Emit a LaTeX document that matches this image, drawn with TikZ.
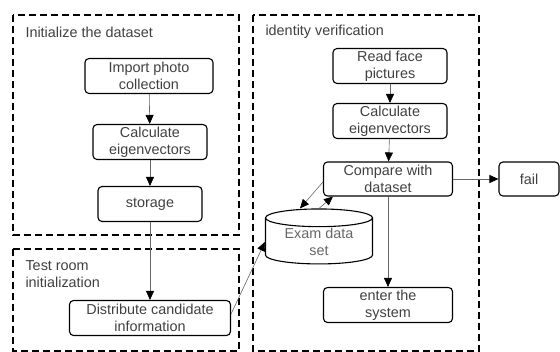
\documentclass[tikz,border=0pt]{standalone}
\usepackage{fontspec}
\setmainfont{Liberation Sans}
\usetikzlibrary{shapes, arrows, arrows.meta, positioning, calc}

\begin{document}
\begin{tikzpicture}[x=1pt, y=-1pt,
                every node/.style={font=\fontsize{14.4}{17}\selectfont, text=black!75},
                box/.style={draw, line width=1.1pt, rounded corners=4pt, minimum height=35pt, align=center, inner sep=1pt},
                frame/.style={draw, line width=1.4pt, dash pattern=on 7pt off 4pt},
                link/.style={-{Triangle[length=9pt, width=8pt, color=black]}, draw=black!60, semithick}]
                \useasboundingbox (0,0) rectangle (560,352);
                % dashed groups
                \draw[frame] (13,15) rectangle (239,235);
                \draw[frame] (13,249) rectangle (239,351);
                \draw[frame] (253,15) rectangle (479,351);
                \node[anchor=west] (tinit) at (22,32) {Initialize the dataset};
                \node[anchor=west, align=left] (troom) at (22,274) {Test room\\initialization};
                \node[anchor=west] (tident) at (262,32) {identity verification};
                % left column
                \node[box, minimum width=128pt] (import) at (149,76) {Import photo\\collection};
                \node[box, minimum width=114pt] (calcl) at (150,142) {Calculate\\eigenvectors};
                \node[box, minimum width=104pt] (store) at (150,204) {storage};
                \node[box, minimum width=161pt] (distr) at (150,318) {Distribute candidate\\information};
                % right column
                \node[box, minimum width=114pt] (read) at (390,66) {Read face\\pictures};
                \node[box, minimum width=114pt] (calcr) at (390,121) {Calculate\\eigenvectors};
                \node[box, minimum width=129pt, minimum height=34pt] (cmp) at (388,179) {Compare with\\dataset};
                \node[box, minimum width=60pt, minimum height=34pt] (fail) at (529,179) {fail};
                \node[box, minimum width=129pt] (enter) at (388,305) {enter the\\system};
                \node[draw, line width=1.1pt, cylinder, shape border rotate=90, aspect=0.25, align=center,
                      minimum width=107pt, minimum height=50pt, inner sep=1pt, text=black!60] (exam) at (319,242) {Exam data\\set};
                % connectors
                \draw[link] (import) -- (calcl);
                \draw[link] (calcl) -- (store);
                \draw[link] (store) -- (distr);
                \draw[link] ($(distr.east)+(0,-4)$) -- (exam.west);
                \draw[link] ($(cmp.west)+(0,3)$) -- ($(exam.north)+(-19,0)$);
                \draw[link] (exam.north) -- ($(cmp.south west)+(10,0)$);
                \draw[link] (read) -- (calcr);
                \draw[link] (calcr) -- (cmp);
                \draw[link] (cmp) -- (fail);
                \draw[link] (cmp) -- (enter);
            \end{tikzpicture}
\end{document}
